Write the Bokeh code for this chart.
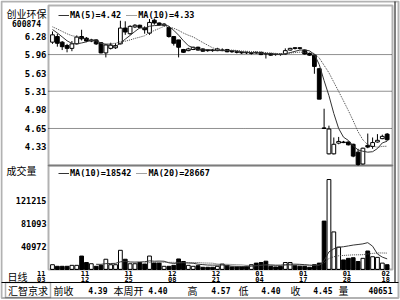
import numpy as np
from bokeh.plotting import figure
from bokeh.models import (ColumnDataSource, FixedTicker, Range1d, Legend, LegendItem,
                          LinearAxis, BoxAnnotation)
from bokeh.core.properties import value
from bokeh.embed import file_html
from bokeh.resources import INLINE

# ---------------- data ----------------
stock_name = "创业环保"
stock_code = "600874"
period_name = "日线"
volume_title = "成交量"
brand = "汇智京求"

opens = [6.18, 6.28, 6.18, 6.12, 6.07, 6.15, 6.28, 6.25, 6.20, 6.22,
         6.17, 5.99, 6.07, 6.08, 6.15, 6.43, 6.33, 6.45, 6.48, 6.43,
         6.34, 6.57, 6.52, 6.48, 6.44, 6.28, 6.22, 6.05, 6.03, 6.05,
         6.09, 6.06, 6.04, 6.04, 6.03, 6.03, 6.05, 6.02, 6.01, 6.00,
         6.00, 5.98, 6.00, 6.00, 5.98, 5.98, 5.97, 5.97, 5.97, 6.04,
         6.08, 6.08, 6.04, 5.98, 5.95, 5.71, 4.66, 4.20, 4.20, 4.39,
         4.41, 4.41, 4.37, 4.23, 4.02, 4.35, 4.33, 4.41, 4.47, 4.55]
highs = [6.37, 6.33, 6.20, 6.15, 6.20, 6.30, 6.40, 6.27, 6.24, 6.23,
         6.18, 6.15, 6.17, 6.16, 6.56, 6.55, 6.48, 6.50, 6.49, 6.46,
         6.59, 6.60, 6.53, 6.52, 6.46, 6.29, 6.22, 6.06, 6.08, 6.10,
         6.10, 6.07, 6.05, 6.06, 6.08, 6.07, 6.06, 6.03, 6.02, 6.01,
         6.01, 6.00, 6.01, 6.01, 5.99, 5.99, 5.97, 5.97, 6.07, 6.08,
         6.09, 6.09, 6.05, 5.99, 5.96, 5.72, 5.00, 4.70, 4.49, 4.50,
         4.43, 4.42, 4.38, 4.29, 4.31, 4.56, 4.49, 4.55, 4.54, 4.57]
lows = [6.15, 6.10, 6.04, 6.00, 6.02, 6.14, 6.21, 6.18, 6.18, 6.13,
        5.98, 5.91, 6.05, 6.06, 6.14, 6.31, 6.31, 6.43, 6.42, 6.33,
        6.31, 6.49, 6.47, 6.46, 6.26, 6.12, 5.91, 5.99, 6.02, 6.04,
        6.03, 6.01, 6.01, 6.01, 6.02, 6.02, 6.00, 5.99, 5.98, 5.97,
        5.97, 5.96, 5.97, 5.95, 5.89, 5.94, 5.94, 5.94, 5.96, 6.03,
        6.05, 6.05, 5.96, 5.94, 5.62, 5.17, 4.64, 4.19, 4.19, 4.37,
        4.39, 4.35, 4.14, 3.99, 4.01, 4.30, 4.29, 4.40, 4.46, 4.43]
closes = [6.31, 6.16, 6.10, 6.07, 6.15, 6.27, 6.24, 6.20, 6.22, 6.15,
          5.99, 6.13, 6.13, 6.12, 6.43, 6.36, 6.46, 6.48, 6.44, 6.40,
          6.53, 6.52, 6.49, 6.50, 6.28, 6.16, 6.09, 6.00, 6.06, 6.09,
          6.04, 6.02, 6.03, 6.03, 6.06, 6.04, 6.01, 6.01, 6.00, 5.99,
          5.99, 5.99, 5.99, 5.96, 5.97, 5.95, 5.96, 5.96, 6.03, 6.07,
          6.07, 6.07, 5.97, 5.95, 5.75, 5.17, 4.65, 4.64, 4.37, 4.42,
          4.40, 4.36, 4.16, 4.01, 4.30, 4.32, 4.40, 4.44, 4.51, 4.45]
volumes = [8400, 5600, 5600, 5600, 7300, 7300, 23600, 12300, 10100, 5600,
           7300, 18000, 8400, 8400, 33700, 18000, 10100, 10100, 12300, 9500,
           23600, 11200, 11200, 5600, 5600, 7300, 18500, 14000, 7300, 5600,
           6700, 3900, 3900, 3900, 5600, 9500, 7300, 4500, 4500, 4500,
           5600, 8400, 11200, 12300, 14600, 5600, 4500, 5600, 12300, 12300,
           6700, 5600, 5600, 3900, 8400, 11200, 85000, 158000, 66000, 39300,
           16800, 19600, 20700, 14000, 19600, 32500, 22400, 21300, 11200, 8400]
# closes of the days just before the window (for the moving averages)
prior_closes = [6.55, 6.52, 6.50, 6.48, 6.45, 6.47, 6.44, 6.42, 6.38]

date_months = ["11", "11", "11", "12", "12", "01", "01", "01", "02"]
date_days = ["03", "12", "25", "08", "21", "04", "17", "28", "18"]
date_bars = [-2, 7, 16, 25, 34, 43, 52, 61, 69]

price_ticks = [4.33, 4.65, 4.98, 5.31, 5.63, 5.96, 6.28]
price_grid = [4.65, 5.31, 5.96]
volume_ticks = [40972, 81093, 121215]

price_ma_labels = ["MA(5)=4.42", "MA(10)=4.33"]
volume_ma_labels = ["MA(10)=18542", "MA(20)=28667"]

status_names = ["前收", "本周开", "高", "低", "收", "量"]
status_values = ["4.39", "4.40", "4.57", "4.40", "4.45", "40651"]

# ---------------- derived series ----------------
n = len(closes)
bars = list(range(n))
fills = ["white" if c >= o else "black" for o, c in zip(opens, closes)]


def sma(series, w, offset):
    out = []
    for i in range(n):
        j = i + offset
        out.append(np.nan if j - w + 1 < 0 else sum(series[j - w + 1:j + 1]) / w)
    return np.array(out)


hist = prior_closes + closes
ma5 = sma(hist, 5, len(prior_closes))
ma10 = sma(hist, 10, len(prior_closes))
vma10 = sma(volumes, 10, 0)
vma20 = sma(volumes, 20, 0)

src = ColumnDataSource(dict(
    x=bars, open=opens, high=highs, low=lows, close=closes,
    top=[max(o, c) for o, c in zip(opens, closes)],
    bottom=[min(o, c) for o, c in zip(opens, closes)],
    vol=volumes, fill=fills, ma5=ma5, ma10=ma10, vma10=vma10, vma20=vma20))

# ---------------- layout (page pixels) ----------------
MONO = "DejaVu Sans Mono"
CJK = "Noto Sans CJK SC"
PAGE_W, PAGE_H = 400, 300
PLOT_L, PLOT_R = 48, 392
PRICE_TOP, PRICE_BOT = 5, 165
VOL_BOT = 269
FIRST_BAR_PX, BAR_PX = 52, 4.85
PRICE_PX_PER_UNIT, PRICE_AT_TOP = 56.41, 6.830
VOL_PER_PX = 1756

x_lo = -FIRST_BAR_PX / BAR_PX
x_hi = (PAGE_W - FIRST_BAR_PX) / BAR_PX
price_lo = PRICE_AT_TOP - (PAGE_H - PRICE_TOP) / PRICE_PX_PER_UNIT
price_hi = PRICE_AT_TOP + PRICE_TOP / PRICE_PX_PER_UNIT
vol_lo = -(PAGE_H - VOL_BOT) * VOL_PER_PX
vol_hi = VOL_BOT * VOL_PER_PX

p = figure(width=PAGE_W, height=PAGE_H, x_range=Range1d(x_lo, x_hi),
           y_range=Range1d(price_lo, price_hi), output_backend="svg",
           toolbar_location=None, x_axis_location=None, y_axis_location=None,
           min_border=0, outline_line_color=None,
           background_fill_color="white", border_fill_color="white")
for g in p.grid:
    g.visible = False
p.extra_x_ranges = {"px": Range1d(0, PAGE_W)}
p.extra_y_ranges = {"py": Range1d(PAGE_H, 0), "vol": Range1d(vol_lo, vol_hi)}


def y_axis(ticks, range_name, size):
    kw = {} if range_name is None else {"y_range_name": range_name}
    ax = LinearAxis(x_range_name="px", fixed_location=PLOT_L,
                    ticker=FixedTicker(ticks=ticks), **kw)
    ax.major_label_overrides = {t: (f"{t:.2f}" if isinstance(t, float) else str(t)) for t in ticks}
    ax.axis_line_color = None
    ax.major_tick_line_color = None
    ax.minor_tick_line_color = None
    ax.major_tick_out = 0
    ax.major_tick_in = 0
    ax.major_label_standoff = 2
    ax.major_label_text_font = MONO
    ax.major_label_text_font_style = "bold"
    ax.major_label_text_font_size = size
    ax.major_label_text_color = "black"
    p.add_layout(ax, "left")


def page_text(xs, ys, texts, font, size, align="center", bold=False):
    p.text(x=xs, y=ys, text=texts, x_range_name="px", y_range_name="py",
           text_font=value(font), text_font_size=size,
           text_font_style="bold" if bold else "normal",
           text_align=align, text_baseline="middle", text_color="black")


def add_legend(items, loc):
    p.add_layout(Legend(items=items, orientation="horizontal", location=loc,
                        border_line_color=None, background_fill_alpha=0,
                        label_text_font=MONO, label_text_font_style="bold",
                        label_text_font_size="8.5px", label_text_color="black",
                        glyph_width=11, glyph_height=8, label_height=10, label_width=10,
                        label_standoff=1, spacing=5, padding=1, margin=0))


# ---- frames / borders ----
frame_kw = dict(fill_alpha=0, line_color="black", x_range_name="px", y_range_name="py")
p.add_layout(BoxAnnotation(left=1, right=398, top=1, bottom=297.5, line_width=2, **frame_kw))
p.segment(x0=[394.5, 1], y0=[1, 282], x1=[394.5, 398], y1=[282, 282],
          x_range_name="px", y_range_name="py", line_color="black", line_width=1)

# ---- price panel ----
p.segment(x0=[PLOT_L] * len(price_grid), x1=[PLOT_R] * len(price_grid),
          y0=price_grid, y1=price_grid, x_range_name="px",
          line_color="#222222", line_width=1, line_dash="1 1")
p.segment(x0="x", y0="low", x1="x", y1="high", source=src, line_color="black", line_width=1)
p.vbar(x="x", width=0.78, top="top", bottom="bottom", source=src,
       fill_color="fill", line_color="black", line_width=1)
r5 = p.line("x", "ma5", source=src, line_color="#333333", line_width=1)
r10 = p.line("x", "ma10", source=src, line_color="#444444", line_width=1, line_dash="1 1")
p.add_layout(BoxAnnotation(left=PLOT_L, right=PLOT_R, top=PRICE_TOP, bottom=PRICE_BOT,
                           line_width=2, **frame_kw))
y_axis(price_ticks, None, "9px")
add_legend([LegendItem(label=price_ma_labels[0], renderers=[r5]),
            LegendItem(label=price_ma_labels[1], renderers=[r10])], (58, 280.5))
page_text([26], [12.5], [stock_name], CJK, "10px")
page_text([26], [22.5], [stock_code], MONO, "8px", bold=True)

# ---- volume panel ----
p.vbar(x="x", width=0.78, top="vol", bottom=0, source=src, y_range_name="vol",
       fill_color="fill", line_color="black", line_width=1)
rv10 = p.line("x", "vma10", source=src, y_range_name="vol", line_color="#333333", line_width=1)
rv20 = p.line("x", "vma20", source=src, y_range_name="vol", line_color="#444444",
              line_width=1, line_dash="1 1")
p.add_layout(BoxAnnotation(left=PLOT_L, right=PLOT_R, top=PRICE_BOT, bottom=VOL_BOT,
                           line_width=2, **frame_kw))
y_axis(volume_ticks, "vol", "8.5px")
add_legend([LegendItem(label=volume_ma_labels[0], renderers=[rv10]),
            LegendItem(label=volume_ma_labels[1], renderers=[rv20])], (58, 122))
page_text([21], [169.5], [volume_title], CJK, "10px")

# ---- date labels ----
page_text([17], [276], [period_name], CJK, "10px")
for labels, yy in ((date_months, 272.8), (date_days, 278.6)):
    p.text(x=date_bars, y=[yy] * len(date_bars), text=labels, y_range_name="py",
           x_offset=-1.5, text_font=value(MONO), text_font_style="bold",
           text_font_size="7px", text_align="center", text_baseline="middle",
           text_color="black")

# ---- status bar ----
status_name_x = [53, 113, 187, 238, 290, 338]
status_value_x = [107, 167, 230, 280, 332, 392]
p.add_layout(BoxAnnotation(left=5, right=50, top=282, bottom=297, line_width=1.5, **frame_kw))
page_text([27.5], [289.5], [brand], CJK, "10px")
page_text(status_name_x, [289.5] * 6, status_names, CJK, "10px", align="left")
page_text(status_value_x, [289.5] * 6, status_values, MONO, "8px", align="right", bold=True)

open("out.html", "w").write(file_html(p, INLINE))
